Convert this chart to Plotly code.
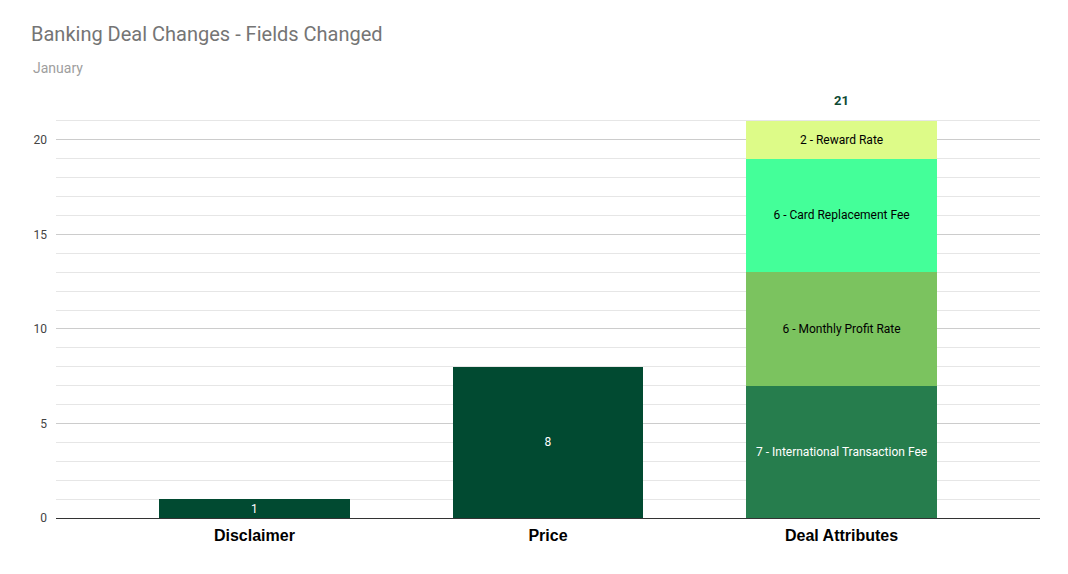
import plotly.graph_objects as go

categories = ["Disclaimer", "Price", "Deal Attributes"]
single_values = [1, 8]  # Disclaimer, Price
attr_names = ["International Transaction Fee", "Monthly Profit Rate", "Card Replacement Fee", "Reward Rate"]
attr_values = [7, 6, 6, 2]
attr_colors = ["#267d4d", "#7bc35f", "#44ff99", "#ddfb88"]
attr_text_colors = ["#ffffff", "#000000", "#000000", "#000000"]
dark_green = "#014a31"

OFF = 8  # page body margin offset

fig = go.Figure()
fig.add_trace(go.Bar(
    x=categories[:2], y=single_values, marker=dict(color=dark_green, line=dict(width=0)),
    text=[str(v) for v in single_values], textposition="inside", insidetextanchor="middle",
    textangle=0, constraintext="none",
    textfont=dict(color="white", size=12, family="Roboto"), width=0.65, showlegend=False,
))
for name, v, c, tc in zip(attr_names, attr_values, attr_colors, attr_text_colors):
    fig.add_trace(go.Bar(
        x=[categories[2]], y=[v], marker=dict(color=c, line=dict(width=0)),
        text=[f"{v} - {name}"], textposition="inside", insidetextanchor="middle",
        textangle=0, constraintext="none",
        textfont=dict(color=tc, size=12, family="Roboto"), width=0.65, showlegend=False,
    ))

total = sum(attr_values)
fig.add_annotation(x=categories[2], y=total, text=f"<b>{total}</b>", showarrow=False,
                   yshift=20, font=dict(color="#0d4a33", size=13, family="Roboto"))

W, H = 1068, 574
pl, pr, pt, pb = 56 - OFF, W - (1040 - OFF), 102 - OFF, H - (518 - OFF)
pw, ph = W - pl - pr, H - pt - pb

fig.update_layout(
    barmode="stack",
    width=W, height=H,
    margin=dict(l=pl, r=pr, t=pt, b=pb),
    paper_bgcolor="white", plot_bgcolor="white",
    title=dict(text="Banking Deal Changes - Fields Changed", x=(31 - OFF) / W, xanchor="left",
               y=1 - (34 - OFF) / H, yanchor="middle",
               font=dict(family="Roboto", size=20, color="#757575")),
    font=dict(family="Roboto"),
)
fig.add_annotation(text="January", xref="paper", yref="paper", x=(31 - 56) / pw,
                   y=1 + (102 - 68) / ph,
                   xanchor="left", yanchor="middle", showarrow=False,
                   font=dict(family="Roboto", size=14, color="#9e9e9e"))

fig.update_xaxes(range=[-0.676, 2.676], showgrid=False, showline=False,
                 tickfont=dict(family="Arial", size=16, color="#000000"),
                 tickvals=categories, ticktext=[f"<b>{c}</b>" for c in categories], ticks="",
                 ticklabelstandoff=6)
fig.update_yaxes(range=[0, 22], dtick=5, showgrid=True, gridcolor="#cccccc", gridwidth=1,
                 zeroline=True, zerolinecolor="#333333", zerolinewidth=1,
                 minor=dict(dtick=1, showgrid=True, gridcolor="#e6e6e6", gridwidth=1),
                 tickfont=dict(family="Roboto", size=12, color="#444444"), ticks="",
                 ticklabelstandoff=8)

fig.write_html("out.html")
